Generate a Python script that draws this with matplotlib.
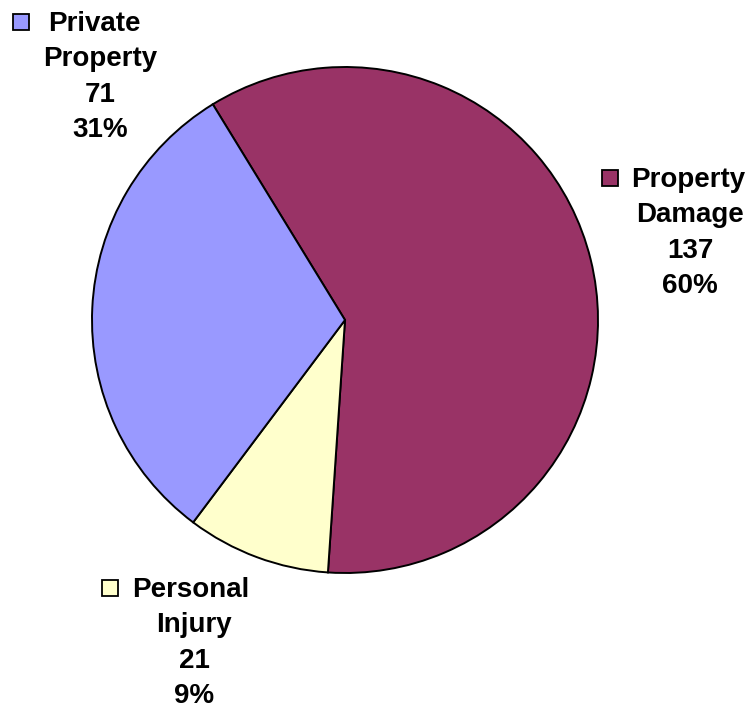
import matplotlib.pyplot as plt
from matplotlib.patches import Rectangle

# data
categories = ["Property\nDamage", "Personal\nInjury", "Private\nProperty"]
counts = [137, 21, 71]
colors = ["#993366", "#FFFFCC", "#9999FF"]

W, H = 754, 709
fig = plt.figure(figsize=(W / 100, H / 100), dpi=100)
ax = fig.add_axes([0, 0, 1, 1])

ax.pie(counts, colors=colors, startangle=121.5, counterclock=False,
       center=(345, H - 320), radius=253,
       wedgeprops=dict(edgecolor="black", linewidth=1.4))

# pie() resets the limits, so set them afterwards
ax.set_xlim(0, W)
ax.set_ylim(0, H)
ax.set_aspect("equal")
ax.axis("off")

total = sum(counts)
# layout in pixels from top-left: (block center x, first line x, first baseline y, square x, square y)
label_pos = [(690, 688, 187, 602, 170),
             (194, 191, 597, 102, 580),
             (100, 94, 31, 13, 14)]
pitch = 35.3
for name, n, col, (cx, fx, by, sx, sy) in zip(categories, counts, colors, label_pos):
    pct = round(100 * n / total)
    lines = name.split("\n") + [str(n), f"{pct}%"]
    for i, line in enumerate(lines):
        x = fx if i == 0 else cx
        ax.text(x, H - (by + i * pitch), line, ha="center", va="baseline",
                fontsize=20, fontweight="bold", family="Liberation Sans")
    ax.add_patch(Rectangle((sx, H - sy - 16), 16, 16, facecolor=col,
                           edgecolor="black", linewidth=1.3))

fig.savefig("out.png", dpi=100)
